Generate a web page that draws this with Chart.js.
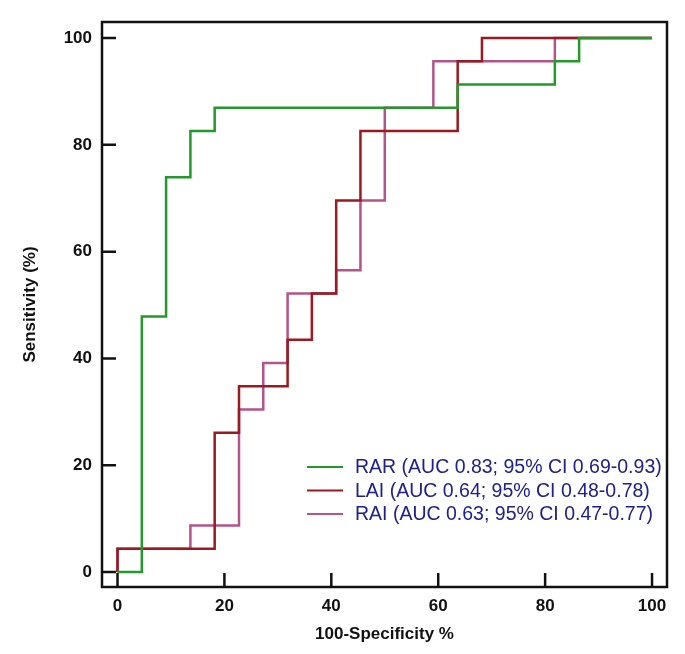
<!DOCTYPE html>
<html>
<head>
<meta charset="utf-8">
<script src="https://cdn.jsdelivr.net/npm/chart.js@4/dist/chart.umd.min.js"></script>
<style>
  html, body { margin: 0; padding: 0; background: #ffffff; }
  #wrap { width: 685px; height: 654px; position: relative; }
</style>
</head>
<body>
<div id="wrap"><canvas id="c" width="685" height="654"></canvas></div>
<script>
// ---- data ----
const seriesLabels = [
  "RAR (AUC 0.83; 95% CI 0.69-0.93)",
  "LAI (AUC 0.64; 95% CI 0.48-0.78)",
  "RAI (AUC 0.63; 95% CI 0.47-0.77)"
];
// 100-Specificity (%) and Sensitivity (%) step vertices
const rarX = [0, 4.55, 9.09, 13.64, 18.18, 63.64, 81.82, 86.36, 100];
const rarY = [0, 47.83, 73.91, 82.61, 86.96, 91.30, 95.65, 100, 100];
const laiX = [0, 0, 18.18, 22.73, 31.82, 36.36, 40.91, 45.45, 63.64, 68.18, 100];
const laiY = [0, 4.35, 26.09, 34.78, 43.48, 52.17, 69.57, 82.61, 95.65, 100, 100];
const raiX = [0, 0, 13.64, 22.73, 27.27, 31.82, 40.91, 45.45, 50.00, 59.09, 81.82, 100];
const raiY = [0, 4.35, 8.70, 30.43, 39.13, 52.17, 56.52, 69.57, 86.96, 95.65, 100, 100];
const xTicks = [0, 20, 40, 60, 80, 100];
const yTicks = [0, 20, 40, 60, 80, 100];
const xTitle = "100-Specificity %";
const yTitle = "Sensitivity (%)";

const colors = ["#22992a", "#991a1f", "#b4548a"];
const legendTextColor = "#1f2090";
const FONT = '"Liberation Sans", Arial, sans-serif';

function pts(xs, ys) { return xs.map((x, i) => ({ x: x, y: ys[i] })); }

const frame = {
  id: 'frame',
  afterDatasetsDraw(chart) {
    const ctx = chart.ctx, a = chart.chartArea;
    ctx.save();
    ctx.strokeStyle = '#111';
    ctx.lineWidth = 2.5;
    ctx.strokeRect(a.left, a.top, a.right - a.left, a.bottom - a.top);
    // inward ticks
    const len = 14;
    const xs = chart.scales.x, ys = chart.scales.y;
    ctx.beginPath();
    xs.ticks.forEach(t => {
      const px = xs.getPixelForValue(t.value);
      ctx.moveTo(px, a.bottom); ctx.lineTo(px, a.bottom - len);
    });
    ys.ticks.forEach(t => {
      const py = ys.getPixelForValue(t.value);
      ctx.moveTo(a.left, py); ctx.lineTo(a.left + len, py);
    });
    ctx.stroke();
    // legend
    ctx.font = '19.5px ' + FONT;
    ctx.textBaseline = 'middle';
    ctx.textAlign = 'left';
    chart.data.datasets.forEach((ds, i) => {
      const y = 467 + i * 23.5;
      ctx.strokeStyle = ds.borderColor;
      ctx.lineWidth = 2;
      ctx.beginPath();
      ctx.moveTo(307, y); ctx.lineTo(343, y);
      ctx.stroke();
      ctx.fillStyle = legendTextColor;
      ctx.fillText(ds.label, 355, y + 1);
    });
    ctx.restore();
  }
};

new Chart(document.getElementById('c'), {
  type: 'line',
  data: {
    datasets: [
      { label: seriesLabels[0], data: pts(rarX, rarY), borderColor: colors[0] },
      { label: seriesLabels[1], data: pts(laiX, laiY), borderColor: colors[1] },
      { label: seriesLabels[2], data: pts(raiX, raiY), borderColor: colors[2] }
    ].map(d => Object.assign(d, { stepped: 'before', borderWidth: 2.5, pointRadius: 0, fill: false }))
  },
  options: {
    responsive: false,
    animation: false,
    layout: { padding: { top: 22, right: 18, left: 20, bottom: 9 } },
    plugins: { legend: { display: false }, tooltip: { enabled: false } },
    scales: {
      x: {
        type: 'linear', min: -2.9, max: 102.8,
        afterBuildTicks: s => { s.ticks = xTicks.map(v => ({ value: v })); },
        afterFit: s => { s.height = 58; },
        grid: { display: false, drawTicks: false },
        border: { display: false },
        ticks: { padding: 9, color: '#111', font: { family: FONT, size: 17, weight: 'bold' } },
        title: { display: true, text: xTitle, color: '#111', padding: { top: 0, bottom: 0 }, font: { family: FONT, size: 17, weight: 'bold' } }
      },
      y: {
        type: 'linear', min: -2.8, max: 103,
        afterBuildTicks: s => { s.ticks = yTicks.map(v => ({ value: v })); },
        afterFit: s => { s.width = 82; },
        grid: { display: false, drawTicks: false },
        border: { display: false },
        ticks: { padding: 10, color: '#111', font: { family: FONT, size: 17, weight: 'bold' } },
        title: { display: true, text: yTitle, color: '#111', padding: { top: 0, bottom: 0 }, font: { family: FONT, size: 17, weight: 'bold' } }
      }
    }
  },
  plugins: [frame]
});
</script>
</body>
</html>
